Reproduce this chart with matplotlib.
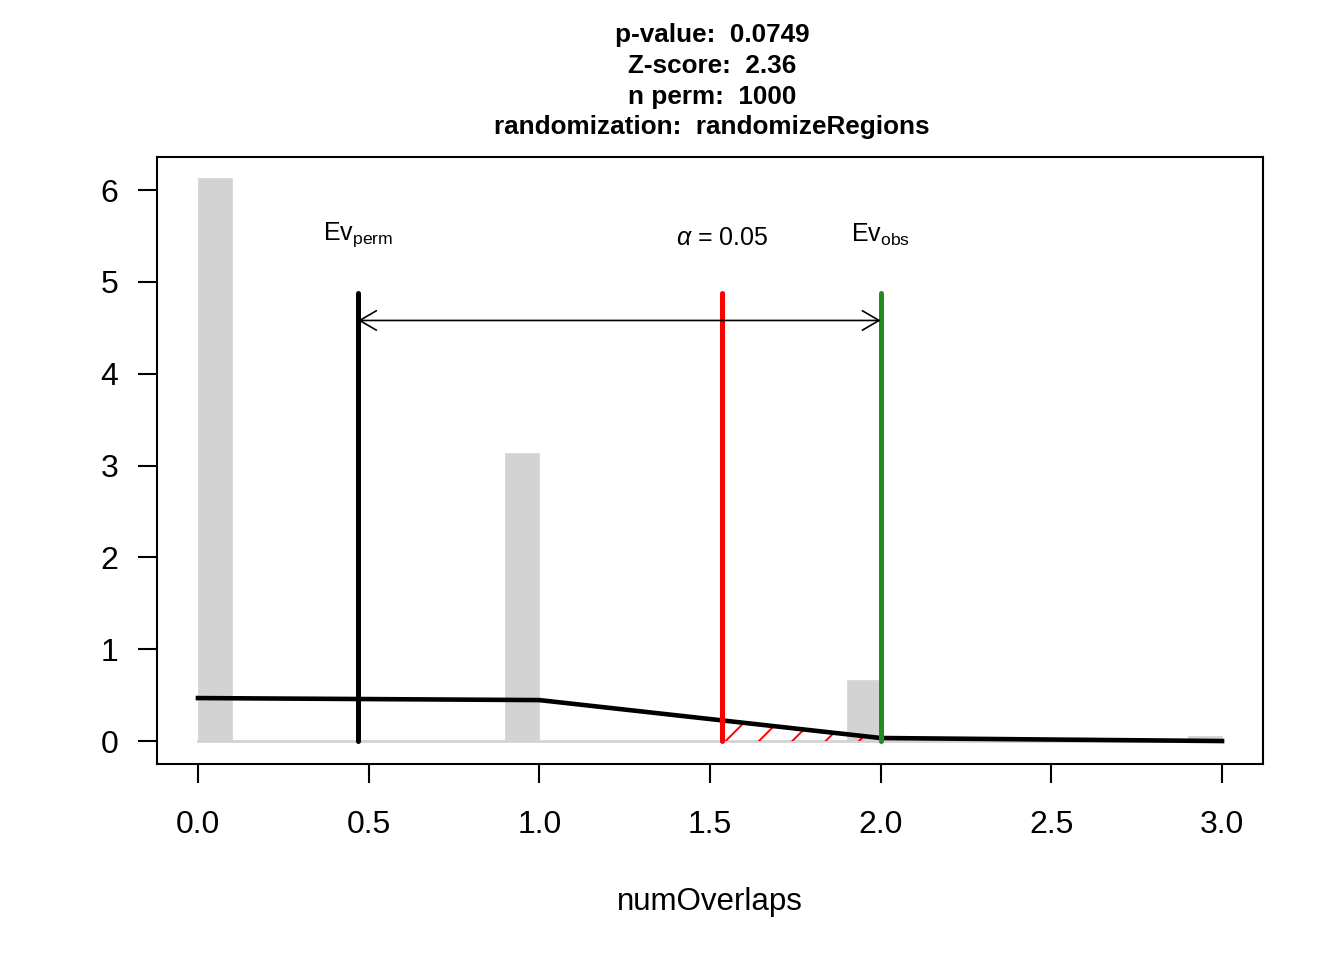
import numpy as np
import matplotlib
matplotlib.use("Agg")
import matplotlib.pyplot as plt

plt.rcParams['font.family'] = ['Liberation Sans', 'DejaVu Sans']
plt.rcParams['mathtext.fontset'] = 'custom'
plt.rcParams['mathtext.rm'] = 'Liberation Sans'
plt.rcParams['mathtext.it'] = 'Liberation Sans:italic'
plt.rcParams['mathtext.bf'] = 'Liberation Sans:bold'
plt.rcParams['hatch.linewidth'] = 1.4

# ---- data ----
perm_values = [0, 1, 2, 3]
perm_counts = [613, 314, 67, 6]
n_perm = 1000
bin_width = 0.1

curve_x = [0, 1, 2, 3]
curve_y = [0.468, 0.446, 0.033, 0.0]

ev_perm = 0.469
ev_obs = 2.0
alpha_thr = 1.535

title_lines = ["p-value:  0.0749", "Z-score:  2.36", "n perm:  1000",
               "randomization:  randomizeRegions"]
x_ticks = [0.0, 0.5, 1.0, 1.5, 2.0, 2.5, 3.0]
x_ticklabels = ["0.0", "0.5", "1.0", "1.5", "2.0", "2.5", "3.0"]
y_ticks = [0, 1, 2, 3, 4, 5, 6]
xlabel = "numOverlaps"

# ---- figure ----
fig = plt.figure(figsize=(13.44, 9.6), dpi=100)
ax = fig.add_axes([157/1344, 1-764/960, (1263-157)/1344, (764-157)/960])

# histogram (density), right-closed bins, include lowest
lefts = [v - bin_width if v > 0 else 0 for v in perm_values]
dens = [c / n_perm / bin_width for c in perm_counts]
ax.plot([min(perm_values), max(perm_values)], [0, 0], color='lightgray', lw=2, zorder=1)
ax.bar(lefts, dens, width=bin_width, align='edge', color='lightgray',
       edgecolor='lightgray', lw=0.5, zorder=1)

# normal curve
ax.plot(curve_x, curve_y, color='black', lw=3.3, zorder=3)

# hatched area between alpha threshold and observed value
xs = np.array([alpha_thr] + [x for x in curve_x if alpha_thr < x < ev_obs] + [ev_obs])
ys = np.interp(xs, curve_x, curve_y)
ax.fill_between(xs, 0, ys, facecolor='none', edgecolor='red', hatch='/', lw=0, zorder=2)

# vertical lines
vtop = 4.88
ax.plot([ev_perm, ev_perm], [0, vtop], color='black', lw=3.6, solid_capstyle='round', zorder=4)
ax.plot([alpha_thr, alpha_thr], [0, vtop], color='red', lw=3.6, solid_capstyle='round', zorder=4)
ax.plot([ev_obs, ev_obs], [0, vtop], color='forestgreen', lw=3.6, solid_capstyle='round', zorder=4)

# arrow
ax.annotate('', xy=(ev_obs, 4.58), xytext=(ev_perm, 4.58),
            arrowprops=dict(arrowstyle='<->,head_length=0.6,head_width=0.35',
                            lw=1.2, color='black', shrinkA=0, shrinkB=0,
                            mutation_scale=20), zorder=5)

# labels
ax.text(ev_perm, 5.51, r'Ev$_{\mathrm{perm}}$', ha='center', va='center', fontsize=18)
ax.text(alpha_thr, 5.48, r'$\alpha$ = 0.05', ha='center', va='center', fontsize=18)
ax.text(ev_obs, 5.51, r'Ev$_{\mathrm{obs}}$', ha='center', va='center', fontsize=18)

# axes
ax.set_xlim(-0.12, 3.12)
ax.set_ylim(-0.25, 6.36)
ax.set_xticks(x_ticks)
ax.set_xticklabels(x_ticklabels)
ax.set_yticks(y_ticks)
ax.tick_params(axis='both', direction='out', length=14, width=1.5, labelsize=23)
ax.tick_params(axis='x', pad=19)
ax.tick_params(axis='y', pad=14)
for s in ax.spines.values():
    s.set_linewidth(1.5)
ax.set_xlabel(xlabel, fontsize=22.5, labelpad=34)

# title
ys_title = [35, 66, 97, 127]
for line, yp in zip(title_lines, ys_title):
    fig.text(712/1344, 1 - yp/960, line, ha='center', va='center',
             fontsize=18.8, fontweight='bold')

fig.savefig('out.png', dpi=100)
